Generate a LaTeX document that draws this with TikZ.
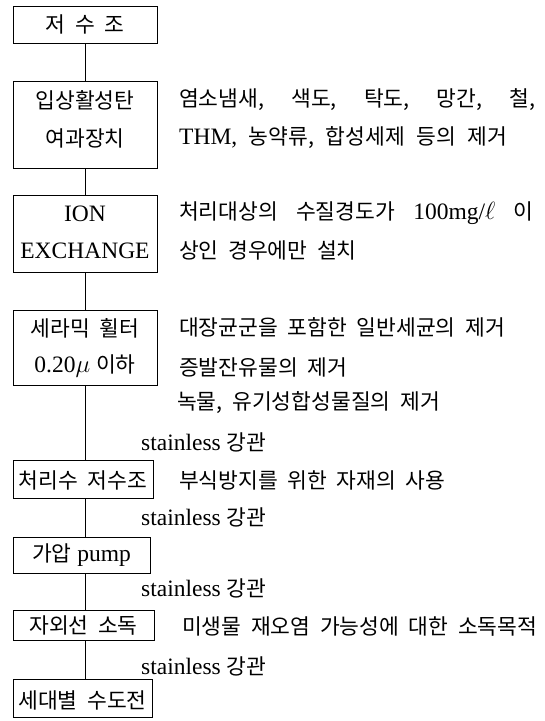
\documentclass[tikz,border=0pt]{standalone}
\usepackage{fontspec}
\setmainfont{Liberation Serif}
\newfontfamily\kr{Noto Sans CJK KR}[Scale=0.915,WordSpace=2]
\begin{document}
\begin{tikzpicture}[x=1pt,y=-1pt,
  every node/.style={font=\fontsize{23.5}{28}\selectfont},
  box/.style={draw, line width=0.9pt, inner sep=0pt, minimum width=144pt},
  txt/.style={inner sep=0pt},
  lbl/.style={anchor=west, inner sep=0pt},
  conn/.style={line width=0.8pt}]
\useasboundingbox (0,0) rectangle (545,721);
% boxes
\node[box, minimum height=37pt] (b1) at (85,24.5) {};
\node[box, minimum height=87pt] (b2) at (85,124.5) {};
\node[box, minimum height=77pt] (b3) at (85,233.5) {};
\node[box, minimum height=75pt] (b4) at (85,347.5) {};
\node[box, minimum height=38pt, minimum width=140pt] (b5) at (83,479) {};
\node[box, minimum height=36pt, minimum width=137pt] (b6) at (81.5,555) {};
\node[box, minimum height=30pt, minimum width=141pt] (b7) at (83.5,625) {};
\node[box, minimum height=38pt, minimum width=139pt] (b8) at (82.5,698) {};
% box texts
\node[txt] (t1) at (85,24) {\kr 저 수 조};
\node[txt] (t2a) at (85,100) {\kr 입상활성탄};
\node[txt] (t2b) at (85,138) {\kr 여과장치};
\node[txt] (t3a) at (85,214) {ION};
\node[txt] (t3b) at (85,251) {EXCHANGE};
\node[txt] (t4a) at (85,328) {\kr 세라믹 휠터};
\node[txt] (t4b) at (85,366) {0.20$\mu$ {\kr 이하}};
\node[txt] (t5) at (83,480) {\kr 처리수 저수조};
\node[txt] (t6) at (81.5,555) {{\kr 가압} pump};
\node[txt] (t7) at (83.5,626) {\kr 자외선 소독};
\node[txt] (t8) at (82.5,700) {\kr 세대별 수도전};
% connectors
\draw[conn] (b1) -- (b2);
\draw[conn] (b2) -- (b3);
\draw[conn] (b3) -- (b4);
\draw[conn] (b4.south) -- (b4.south |- b5.north);
\draw[conn] (b5.south -| b4.south) -- (b4.south |- b6.north);
\draw[conn] (b6.south -| b4.south) -- (b4.south |- b7.north);
\draw[conn] (b7.south -| b4.south) -- (b4.south |- b8.north);
% right texts
\node[lbl] (r1) at (179,100) {\hbox to 356pt{\kr 염소냄새,\hfil 색도,\hfil 탁도,\hfil 망간,\hfil 철,}};
\node[lbl] (r2) at (179,138) {\hbox to 328pt{THM,\hfil{\kr 농약류,}\hfil{\kr 합성세제}\hfil{\kr 등의}\hfil{\kr 제거}}};
\node[lbl] (r3) at (179,213) {\hbox to 354pt{{\kr 처리대상의}\hfil{\kr 수질경도가}\hfil 100mg/$\ell$\hfil{\kr 이}}};
\node[lbl] (r4) at (179,250) {\kr 상인 경우에만 설치};
\node[lbl] (r5) at (179,327) {\kr 대장균군을 포함한 일반세균의 제거};
\node[lbl] (r6) at (179,367) {\kr 증발잔유물의 제거};
\node[lbl] (r7) at (177,403) {\kr 녹물, 유기성합성물질의 제거};
\node[lbl] (r8) at (179,480) {\kr 부식방지를 위한 자재의 사용};
\node[lbl] (r9) at (182,627) {\kr 미생물 재오염 가능성에 대한 소독목적};
\node[lbl] (s1) at (141,442) {stainless {\kr 강관}};
\node[lbl] (s2) at (141,517) {stainless {\kr 강관}};
\node[lbl] (s3) at (141,588) {stainless {\kr 강관}};
\node[lbl] (s4) at (141,666) {stainless {\kr 강관}};
\end{tikzpicture}
\end{document}
